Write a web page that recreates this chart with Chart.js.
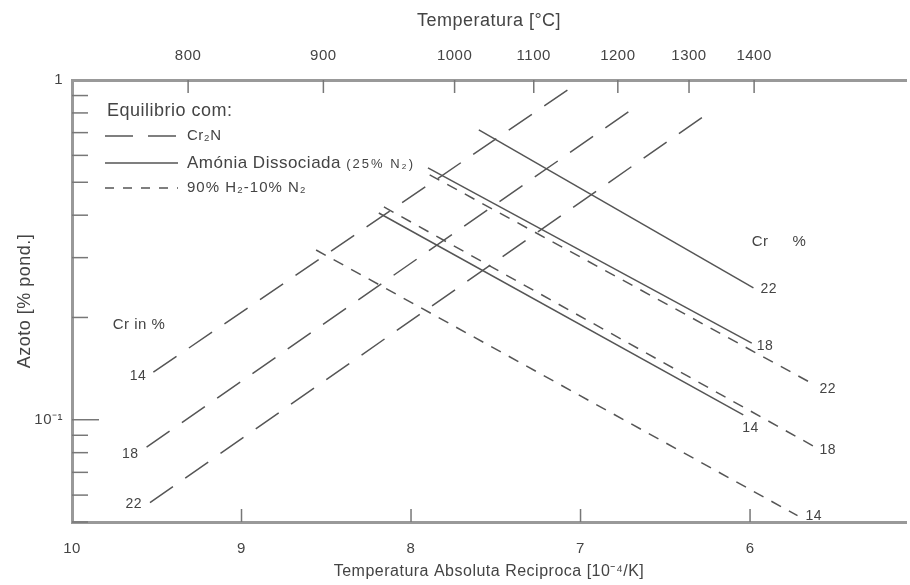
<!DOCTYPE html>
<html>
<head>
<meta charset="utf-8">
<script src="https://cdn.jsdelivr.net/npm/chart.js@4.4.0/dist/chart.umd.min.js"></script>
<style>
  html, body { margin: 0; padding: 0; background: #fff; }
  #wrap { width: 910px; height: 585px; }
</style>
</head>
<body>
<div id="wrap"><canvas id="chart" width="910" height="585"></canvas></div>
<script>
// x = 10^4 / T [1/K], y = azoto [% pond.] (log)
const crLevels = ["14", "18", "22"];

// equilibrio com Cr2N (start, end)
const cr2n14 = [{x: 9.52, y: 0.138}, {x: 7.05, y: 0.954}];
const cr2n18 = [{x: 9.56, y: 0.083}, {x: 6.66, y: 0.844}];
const cr2n22 = [{x: 9.54, y: 0.057}, {x: 6.28, y: 0.778}];

// amonia dissociada (25% N2)
const amm14 = [{x: 8.19, y: 0.406}, {x: 6.04, y: 0.1034}];
const amm18 = [{x: 7.90, y: 0.551}, {x: 5.99, y: 0.168}];
const amm22 = [{x: 7.60, y: 0.713}, {x: 5.98, y: 0.2445}];

// 90% H2 - 10% N2
const h2n14 = [{x: 8.56, y: 0.316}, {x: 5.72, y: 0.0522}];
const h2n18 = [{x: 8.16, y: 0.423}, {x: 5.62, y: 0.0833}];
const h2n22 = [{x: 7.89, y: 0.526}, {x: 5.62, y: 0.1267}];

const xTicks = [10, 9, 8, 7, 6];
const yTicks = [0.05, 0.06, 0.07, 0.08, 0.09, 0.1, 0.2, 0.3, 0.4, 0.5, 0.6, 0.7, 0.8, 0.9, 1];
const tempLabels = ["800", "900", "1000", "1100", "1200", "1300", "1400"];
const tempPositions = [9.315, 8.517, 7.743, 7.276, 6.780, 6.360, 5.976];

const FONT = '"Liberation Sans", Arial, sans-serif';
const INK = '#444';
const LINE = '#555';
const LONG_DASH = [28, 15];
const SHORT_DASH = [11, 9];

Chart.defaults.font.family = FONT;
Chart.defaults.color = INK;

function lineSet(data, dash, cr, tag) {
    return {
        data: data,
        crText: cr,
        tag: tag,
        showLine: true,
        borderColor: LINE,
        borderWidth: 1.5,
        borderDash: dash,
        pointRadius: 0,
        fill: false
    };
}

const datasets = [
    lineSet(cr2n14, LONG_DASH, crLevels[0], {at: 0, dx: -7, dy: 4, align: "right"}),
    lineSet(cr2n18, LONG_DASH, crLevels[1], {at: 0, dx: -8, dy: 7, align: "right"}),
    lineSet(cr2n22, LONG_DASH, crLevels[2], {at: 0, dx: -8, dy: 1, align: "right"}),
    lineSet(amm14, [], crLevels[0], {at: 1, dx: -1, dy: 13, align: "left"}),
    lineSet(amm18, [], crLevels[1], {at: 1, dx: 5, dy: 3, align: "left"}),
    lineSet(amm22, [], crLevels[2], {at: 1, dx: 7, dy: 1, align: "left"}),
    lineSet(h2n14, SHORT_DASH, crLevels[0], {at: 1, dx: 8, dy: 0, align: "left"}),
    lineSet(h2n18, SHORT_DASH, crLevels[1], {at: 1, dx: 5, dy: 3, align: "left"}),
    lineSet(h2n22, SHORT_DASH, crLevels[2], {at: 1, dx: 5, dy: 4, align: "left"})
];

function seg(ctx, x1, y1, x2, y2, dash) {
    ctx.setLineDash(dash || []);
    ctx.beginPath();
    ctx.moveTo(x1, y1);
    ctx.lineTo(x2, y2);
    ctx.stroke();
}

const decorPlugin = {
    id: "decor",
    beforeDraw(chart) {
        // the scanned original has slightly loose lettering
        chart.ctx.letterSpacing = "0.5px";
    },
    afterDatasetsDraw(chart) {
        const ctx = chart.ctx;
        const a = chart.chartArea;
        const sx = chart.scales.x, sy = chart.scales.y, st = chart.scales.xTop;
        ctx.save();

        // tick marks pointing into the plot
        ctx.strokeStyle = '#777';
        ctx.lineWidth = 1.5;
        xTicks.forEach(v => {
            if (v === 10) return;
            const px = sx.getPixelForValue(v);
            seg(ctx, px, a.bottom, px, a.bottom - 13);
        });
        tempPositions.forEach(v => {
            const px = st.getPixelForValue(v);
            seg(ctx, px, a.top, px, a.top + 13);
        });
        yTicks.forEach(v => {
            if (v === 1) return;
            const py = sy.getPixelForValue(v);
            seg(ctx, a.left, py, a.left + (v === 0.1 ? 27 : 16), py);
        });

        // Cr labels at the line ends
        ctx.fillStyle = INK;
        ctx.letterSpacing = "0.5px";
        ctx.font = '14px ' + FONT;
        ctx.textBaseline = "middle";
        chart.data.datasets.forEach((ds, i) => {
            const pt = chart.getDatasetMeta(i).data[ds.tag.at];
            ctx.textAlign = ds.tag.align;
            ctx.fillText(ds.crText, pt.x + ds.tag.dx, pt.y + ds.tag.dy);
        });
        ctx.textAlign = "left";
        ctx.font = '15px ' + FONT;
        ctx.fillText("Cr in %", sx.getPixelForValue(9.76), sy.getPixelForValue(0.19));
        ctx.fillText("Cr", sx.getPixelForValue(5.99), sy.getPixelForValue(0.333));
        ctx.fillText("%", sx.getPixelForValue(5.75), sy.getPixelForValue(0.333));

        // legend box
        const lx = a.left + 33, tx = a.left + 115;
        ctx.font = '18px ' + FONT;
        ctx.fillText("Equilibrio com:", a.left + 35, a.top + 31);
        ctx.strokeStyle = LINE;
        ctx.lineWidth = 1.5;
        seg(ctx, lx, a.top + 56, lx + 73, a.top + 56, LONG_DASH);
        seg(ctx, lx, a.top + 83, lx + 73, a.top + 83, []);
        seg(ctx, lx, a.top + 108, lx + 73, a.top + 108, [9, 9]);
        ctx.setLineDash([]);
        ctx.font = '15px ' + FONT;
        ctx.fillText("Cr₂N", tx, a.top + 56);
        ctx.font = '17px ' + FONT;
        ctx.fillText("Amónia Dissociada", tx, a.top + 83);
        const w = ctx.measureText("Amónia Dissociada ").width;
        ctx.letterSpacing = "2px";
        ctx.font = '13px ' + FONT;
        ctx.fillText("(25% N₂)", tx + w, a.top + 84);
        ctx.letterSpacing = "1px";
        ctx.font = '15px ' + FONT;
        ctx.fillText("90% H₂-10% N₂", tx, a.top + 108);
        ctx.restore();
    }
};

new Chart(document.getElementById("chart"), {
    type: "scatter",
    data: { datasets: datasets },
    options: {
        responsive: false,
        animation: false,
        devicePixelRatio: 1,
        layout: { padding: { right: 4 } },
        plugins: { legend: { display: false }, tooltip: { enabled: false } },
        scales: {
            x: {
                type: "linear",
                position: "bottom",
                reverse: true,
                min: 5.08,
                max: 10,
                afterBuildTicks: s => { s.ticks = xTicks.map(v => ({ value: v })); },
                afterFit: s => { s.height = 63; },
                ticks: { autoSkip: false, maxRotation: 0, padding: 18, color: INK, font: { size: 15 } },
                grid: { display: false, drawTicks: false },
                border: { display: true, color: '#999', width: 3 },
                title: { display: true, text: "Temperatura Absoluta Reciproca [10⁻⁴/K]", color: INK,
                         font: { size: 16 }, padding: { top: 0, bottom: 4 } }
            },
            xTop: {
                type: "linear",
                position: "top",
                reverse: true,
                min: 5.08,
                max: 10,
                afterBuildTicks: s => { s.ticks = tempPositions.map(v => ({ value: v })); },
                afterFit: s => { s.height = 80; },
                ticks: { autoSkip: false, maxRotation: 0, padding: 15, color: INK, font: { size: 15 },
                         callback: (v, i) => tempLabels[i] },
                grid: { display: false, drawTicks: false },
                border: { display: true, color: '#999', width: 3 },
                title: { display: true, text: "Temperatura [°C]", color: INK,
                         font: { size: 18 }, padding: { top: 10, bottom: 0 } }
            },
            y: {
                type: "logarithmic",
                min: 0.05,
                max: 1,
                afterBuildTicks: s => { s.ticks = yTicks.map(v => ({ value: v })); },
                afterFit: s => { s.width = 72; },
                ticks: { autoSkip: false, padding: 9, color: INK, font: { size: 15 },
                         callback: v => v === 1 ? "1" : (v === 0.1 ? "10⁻¹" : "") },
                grid: { display: false, drawTicks: false },
                border: { display: true, color: '#999', width: 3 },
                title: { display: true, text: "Azoto [% pond.]", color: INK,
                         font: { size: 18 }, padding: { top: 14, bottom: 0 } }
            }
        }
    },
    plugins: [decorPlugin]
});
</script>
</body>
</html>
